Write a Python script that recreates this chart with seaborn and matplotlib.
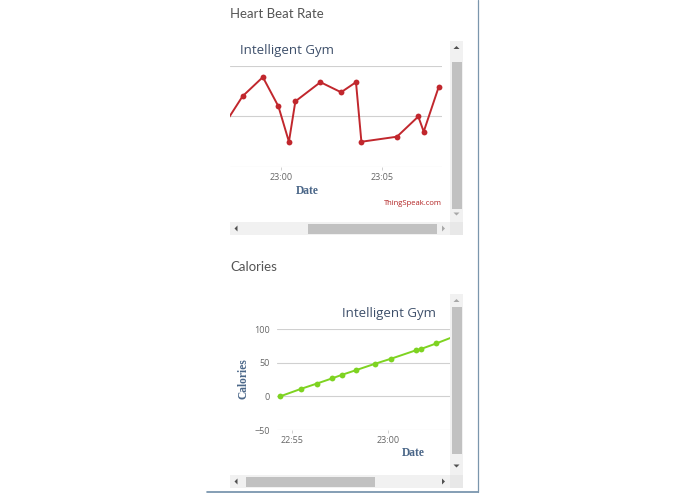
import matplotlib
matplotlib.use("Agg")
import pandas as pd
import matplotlib.pyplot as plt
import matplotlib.dates as mdates
from matplotlib.patches import Rectangle, Polygon
from matplotlib.lines import Line2D
import seaborn as sns

# --- data ---
day = "2019-01-01 "
hr_times = ["22:57:00", "22:58:07", "22:59:07", "22:59:53", "23:00:24", "23:00:43",
            "23:01:57", "23:02:58", "23:03:42", "23:03:58", "23:05:43", "23:06:46",
            "23:07:02", "23:07:46"]
hr_values = [35, 70, 89, 60, 25, 65, 84, 74, 84, 25, 30, 50, 35, 79]

cal_times = ["22:54:24", "22:55:28", "22:56:18", "22:57:04", "22:57:36", "22:58:20",
             "22:59:19", "23:00:09", "23:01:26", "23:01:42", "23:02:28", "23:03:30"]
cal_values = [0, 11, 19, 26.5, 32, 39, 48.5, 56, 68.5, 70.5, 78.5, 90]

hr_df = pd.DataFrame({"Date": pd.to_datetime([day + t for t in hr_times]), "rate": hr_values})
cal_df = pd.DataFrame({"Date": pd.to_datetime([day + t for t in cal_times]), "Calories": cal_values})

W, H = 695, 494
sns.set_style("white")
plt.rcParams["font.family"] = ["Open Sans", "DejaVu Sans"]

fig = plt.figure(figsize=(W / 100, H / 100), dpi=100)

GRID = "#d0d0d0"
TICK = "#666666"
TITLE = "#3d4f6a"
AXLAB = "#4a6688"


def fx(x):
    return x / W


def fy(y):
    return 1 - y / H


def px_axes(l, t, r, b):
    return fig.add_axes([fx(l), fy(b), (r - l) / W, (b - t) / H])


def rect(x, y, w, h, color):
    fig.add_artist(Rectangle((fx(x), fy(y + h)), w / W, h / H, transform=fig.transFigure,
                             facecolor=color, edgecolor="none"))


def tri(cx, cy, d, color="#505050", s=3):
    if d == "up":
        pts = [(cx - s, cy + s / 2), (cx + s, cy + s / 2), (cx, cy - s / 2)]
    elif d == "down":
        pts = [(cx - s, cy - s / 2), (cx + s, cy - s / 2), (cx, cy + s / 2)]
    elif d == "left":
        pts = [(cx + s / 2, cy - s), (cx + s / 2, cy + s), (cx - s / 2, cy)]
    else:
        pts = [(cx - s / 2, cy - s), (cx - s / 2, cy + s), (cx + s / 2, cy)]
    fig.add_artist(Polygon([(fx(a), fy(b)) for a, b in pts], closed=True,
                           transform=fig.transFigure, facecolor=color, edgecolor="none"))


def style_axes(ax, show_y):
    for s in ax.spines.values():
        s.set_visible(False)
    ax.grid(axis="y", color=GRID, linewidth=0.8)
    ax.grid(axis="x", visible=False)
    ax.xaxis.set_major_locator(mdates.MinuteLocator(byminute=range(0, 60, 5)))
    ax.xaxis.set_major_formatter(mdates.DateFormatter("%H:%M"))
    ax.tick_params(axis="x", length=2.5, width=0.7, color=GRID, labelcolor=TICK,
                   labelsize=6.5, pad=2, bottom=True)
    ax.tick_params(axis="y", length=0, labelcolor=TICK, labelsize=6.5, pad=5,
                   labelleft=show_y)
    ax.set_xlabel("")
    ax.set_ylabel("")


# --- Heart Beat Rate panel ---
fig.text(fx(230), fy(14), "Heart Beat Rate", fontsize=9.5, color="#555555",
         ha="left", va="center", family=["Lato", "DejaVu Sans"])
ax1 = px_axes(230, 66, 442, 167)
sns.lineplot(data=hr_df, x="Date", y="rate", ax=ax1, color="#c1272d", linewidth=1.4,
             marker="o", markersize=4.2, markeredgewidth=0)
ax1.set_ylim(0, 100)
ax1.set_yticks([0, 50, 100])
ax1.set_xlim(pd.Timestamp(day + "22:57:30"), pd.Timestamp(day + "23:07:56"))
style_axes(ax1, False)
fig.text(fx(240), fy(50.5), "Intelligent Gym", fontsize=9.5, color=TITLE, ha="left", va="center")
fig.text(fx(307.5), fy(190.5), "Date", fontsize=8.3, color=AXLAB, ha="center", va="center",
         weight="bold", family=["Liberation Serif"])
fig.text(fx(441.5), fy(203.5), "ThingSpeak.com", fontsize=5.5, color="#b22222",
         ha="right", va="center")

# scrollbars
rect(450, 41, 13, 181, "#f1f1f1")
rect(452, 62, 10, 147, "#c1c1c1")
tri(456.5, 47.5, "up")
tri(456.5, 214, "down", "#a8a8a8")
rect(230, 222, 220, 13, "#f1f1f1")
rect(450, 222, 13, 13, "#e8e8e8")
rect(308, 224, 129, 10, "#c1c1c1")
tri(236, 228.5, "left")
tri(443.5, 228.5, "right", "#a8a8a8")

# --- Calories panel ---
fig.text(fx(230), fy(267), "Calories", fontsize=9.5, color="#555555",
         ha="left", va="center", family=["Lato", "DejaVu Sans"])
ax2 = px_axes(277, 329, 450, 430)
sns.lineplot(data=cal_df, x="Date", y="Calories", ax=ax2, color="#7ed321", linewidth=1.4,
             marker="o", markersize=4.2, markeredgewidth=0)
ax2.set_ylim(-50, 100)
ax2.set_yticks([-50, 0, 50, 100])
ax2.set_xlim(pd.Timestamp(day + "22:54:14"), pd.Timestamp(day + "23:03:11"))
style_axes(ax2, True)
fig.text(fx(436.5), fy(313), "Intelligent Gym", fontsize=9.5, color=TITLE, ha="right", va="center")
fig.text(fx(413), fy(452.5), "Date", fontsize=8.3, color=AXLAB, ha="center", va="center",
         weight="bold", family=["Liberation Serif"])
fig.text(fx(243.5), fy(379), "Calories", fontsize=8.3, color=AXLAB, ha="center", va="center",
         weight="bold", rotation=90, family=["Liberation Serif"])

rect(450, 294, 13, 181, "#f1f1f1")
rect(452, 307, 10, 147, "#c1c1c1")
tri(456.5, 300.5, "up", "#a8a8a8")
tri(456.5, 466, "down")
rect(230, 475, 220, 13, "#f1f1f1")
rect(450, 475, 13, 13, "#e8e8e8")
rect(246, 477, 129, 10, "#c1c1c1")
tri(236, 481.5, "left")
tri(443.5, 481.5, "right")

# page border lines
fig.add_artist(Line2D([fx(207), fx(478)], [fy(492), fy(492)], transform=fig.transFigure,
                      color="#6f8ea8", linewidth=1.2))
fig.add_artist(Line2D([fx(478), fx(478)], [fy(0), fy(492)], transform=fig.transFigure,
                      color="#7b96ad", linewidth=0.9))

fig.savefig("out.png", dpi=100)
